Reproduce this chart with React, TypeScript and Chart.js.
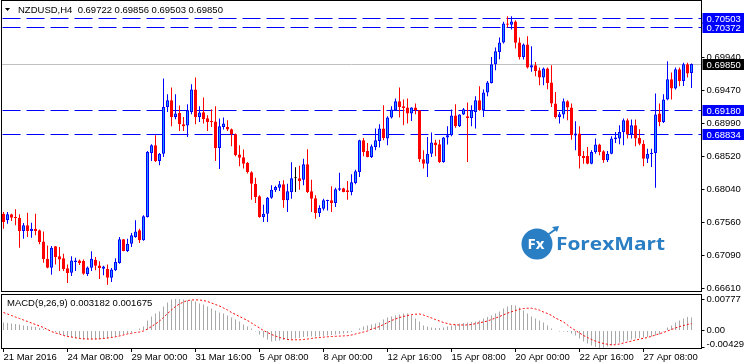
import React, { useEffect, useRef } from "react";
import { Chart, registerables } from "chart.js";

Chart.register(...registerables);

// ---------- Data (NZDUSD H4, 21 Mar 2016 16:00 -> 28 Apr 2016 08:00) ----------
const OPEN = [
  0.67692, 0.67596, 0.67683, 0.67639, 0.67635, 0.67442, 0.67524, 0.67442, 0.67476, 0.67452,
  0.67293, 0.67043, 0.66913, 0.67221, 0.67077, 0.67048, 0.66904, 0.66841, 0.66995, 0.67019,
  0.67009, 0.66822, 0.66913, 0.67029, 0.66947, 0.66899, 0.66899, 0.66769, 0.66875, 0.66981,
  0.67322, 0.67154, 0.67259, 0.67356, 0.67452, 0.67308, 0.67644, 0.68568, 0.68678, 0.68452,
  0.68558, 0.69232, 0.69328, 0.69087, 0.69145, 0.68981, 0.68962, 0.69159, 0.69482, 0.69087,
  0.69155, 0.69068, 0.69025, 0.6902, 0.6864, 0.68943, 0.68943, 0.68909, 0.68837, 0.68544,
  0.68505, 0.68424, 0.68289, 0.68125, 0.67943, 0.67644, 0.67692, 0.67923, 0.68029, 0.68068,
  0.68116, 0.67885, 0.68005, 0.68202, 0.68202, 0.68183, 0.68404, 0.68015, 0.67914, 0.67702,
  0.67765, 0.67875, 0.67885, 0.67846, 0.68039, 0.68058, 0.68029, 0.68005, 0.68135, 0.68294,
  0.68751, 0.68597, 0.6851, 0.68654, 0.68741, 0.68919, 0.68775, 0.69078, 0.69183, 0.69313,
  0.69241, 0.69222, 0.69135, 0.69222, 0.69183, 0.68476, 0.68414, 0.68558, 0.68717, 0.68693,
  0.68438, 0.68789, 0.68823, 0.69107, 0.68953, 0.69121, 0.69097, 0.69073, 0.69159, 0.69328,
  0.69183, 0.69438, 0.69578, 0.69847, 0.70025, 0.7016, 0.70434, 0.70415, 0.70463, 0.7016,
  0.69953, 0.70131, 0.69799, 0.69833, 0.69761, 0.69655, 0.69785, 0.69583, 0.6928, 0.69087,
  0.69121, 0.69313, 0.69222, 0.68818, 0.68847, 0.68525, 0.68525, 0.68414, 0.68582, 0.68688,
  0.68592, 0.68462, 0.68558, 0.68765, 0.68775, 0.68871, 0.69039, 0.68837, 0.68967, 0.68784,
  0.68702, 0.68486, 0.68553, 0.68568, 0.69135, 0.69015, 0.69337, 0.69631, 0.69496, 0.69775,
  0.69607, 0.69847, 0.69722,
];
const HIGH = [
  0.67716, 0.67716, 0.67692, 0.67755, 0.67683, 0.67558, 0.67707, 0.67563, 0.67692, 0.67466,
  0.67437, 0.67235, 0.67226, 0.67226, 0.67211, 0.67115, 0.66961, 0.67077, 0.67057, 0.67033,
  0.67033, 0.66932, 0.67149, 0.67067, 0.67005, 0.66942, 0.66961, 0.66908, 0.67048, 0.67356,
  0.67327, 0.67332, 0.67413, 0.67596, 0.67476, 0.67668, 0.68597, 0.68693, 0.68823, 0.68568,
  0.6964, 0.69414, 0.69511, 0.69414, 0.69251, 0.69087, 0.6927, 0.69559, 0.69655, 0.69241,
  0.69366, 0.69111, 0.69198, 0.69241, 0.69063, 0.69078, 0.69039, 0.68919, 0.68847, 0.68678,
  0.68616, 0.68438, 0.68303, 0.68212, 0.67957, 0.67822, 0.67933, 0.68101, 0.68096, 0.68164,
  0.68173, 0.68125, 0.68433, 0.68361, 0.68385, 0.68486, 0.68621, 0.68183, 0.67957, 0.67813,
  0.67909, 0.67894, 0.68087, 0.68068, 0.68284, 0.68068, 0.68164, 0.6826, 0.68327, 0.6876,
  0.68784, 0.68712, 0.68688, 0.68919, 0.68981, 0.69256, 0.69097, 0.69241, 0.69352, 0.69511,
  0.69337, 0.69352, 0.69227, 0.6928, 0.69188, 0.68606, 0.68799, 0.68861, 0.6876, 0.6876,
  0.68799, 0.68953, 0.69193, 0.6927, 0.69126, 0.69217, 0.69294, 0.69256, 0.69386, 0.6953,
  0.69482, 0.69607, 0.69953, 0.70088, 0.70232, 0.70458, 0.7054, 0.7054, 0.70482, 0.70232,
  0.70146, 0.70251, 0.70107, 0.69881, 0.69799, 0.69799, 0.69799, 0.69833, 0.69448, 0.69159,
  0.69352, 0.69328, 0.6928, 0.69025, 0.68953, 0.68597, 0.68654, 0.68606, 0.68775, 0.68702,
  0.68606, 0.68597, 0.68808, 0.68871, 0.68967, 0.69063, 0.69063, 0.69049, 0.69049, 0.68909,
  0.68751, 0.6863, 0.6863, 0.69424, 0.6928, 0.69414, 0.69891, 0.69727, 0.69799, 0.69799,
  0.69867, 0.69867, 0.69856,
];
const LOW = [
  0.67476, 0.67548, 0.67587, 0.67524, 0.67202, 0.67332, 0.67356, 0.67346, 0.6738, 0.6725,
  0.66985, 0.66904, 0.66812, 0.66961, 0.66865, 0.66865, 0.66692, 0.66793, 0.66865, 0.66952,
  0.66812, 0.66793, 0.66865, 0.66875, 0.6675, 0.66803, 0.66668, 0.66706, 0.66865, 0.66971,
  0.67149, 0.67139, 0.67211, 0.67346, 0.67269, 0.67303, 0.67639, 0.68452, 0.68438, 0.6839,
  0.6851, 0.69159, 0.68953, 0.69054, 0.68885, 0.68885, 0.68799, 0.69126, 0.68981, 0.69015,
  0.68991, 0.68885, 0.68943, 0.68452, 0.68337, 0.68905, 0.68885, 0.68664, 0.6852, 0.68375,
  0.68342, 0.6827, 0.67894, 0.67846, 0.67635, 0.67572, 0.67572, 0.67909, 0.68005, 0.68019,
  0.67779, 0.67716, 0.67909, 0.68005, 0.68039, 0.68101, 0.67991, 0.67716, 0.6762, 0.67644,
  0.6774, 0.6774, 0.67716, 0.67789, 0.68019, 0.68, 0.67894, 0.67957, 0.68116, 0.68221,
  0.6852, 0.68505, 0.68496, 0.68606, 0.68645, 0.68751, 0.68678, 0.69063, 0.69174, 0.69078,
  0.68967, 0.68991, 0.6903, 0.69126, 0.68438, 0.68342, 0.68221, 0.6851, 0.6852, 0.68424,
  0.68428, 0.68688, 0.68808, 0.68933, 0.68943, 0.69116, 0.68438, 0.68953, 0.68919, 0.69178,
  0.69087, 0.69386, 0.69568, 0.69761, 0.69919, 0.70146, 0.70376, 0.70348, 0.70073, 0.69915,
  0.69915, 0.69785, 0.69737, 0.69674, 0.69544, 0.69544, 0.69487, 0.69232, 0.69063, 0.68991,
  0.69063, 0.69039, 0.6876, 0.68606, 0.68342, 0.68414, 0.68404, 0.68404, 0.68558, 0.68534,
  0.68428, 0.68438, 0.68549, 0.68712, 0.68693, 0.68678, 0.68775, 0.68775, 0.68664, 0.68678,
  0.68375, 0.68424, 0.68366, 0.68068, 0.68953, 0.69001, 0.69328, 0.69337, 0.69482, 0.6953,
  0.69535, 0.69655, 0.69503,
];
const CLOSE = [
  0.67572, 0.67683, 0.67635, 0.6763, 0.67442, 0.67524, 0.67442, 0.67476, 0.67442, 0.67284,
  0.67038, 0.66913, 0.67202, 0.67067, 0.67033, 0.66894, 0.66836, 0.67019, 0.67019, 0.66981,
  0.66827, 0.66918, 0.67043, 0.66942, 0.66908, 0.66932, 0.66769, 0.66889, 0.66995, 0.67322,
  0.67154, 0.67259, 0.6738, 0.67437, 0.67308, 0.67654, 0.68582, 0.68678, 0.68448, 0.68558,
  0.69232, 0.69328, 0.69087, 0.69135, 0.68981, 0.68953, 0.69183, 0.69482, 0.69087, 0.6915,
  0.69054, 0.69015, 0.69015, 0.6864, 0.68953, 0.68991, 0.68905, 0.68837, 0.68534, 0.685,
  0.68414, 0.68294, 0.68125, 0.67933, 0.67644, 0.67692, 0.67923, 0.68039, 0.68077, 0.68116,
  0.67885, 0.68015, 0.68202, 0.68202, 0.68164, 0.68404, 0.68005, 0.67909, 0.67702, 0.67774,
  0.67885, 0.67885, 0.67846, 0.68044, 0.68058, 0.68005, 0.68005, 0.68145, 0.68303, 0.68751,
  0.68582, 0.6851, 0.68664, 0.68751, 0.68919, 0.68784, 0.69078, 0.69193, 0.69313, 0.69232,
  0.69217, 0.69135, 0.69222, 0.69183, 0.68476, 0.68414, 0.68558, 0.68717, 0.68678, 0.68438,
  0.68789, 0.68823, 0.69107, 0.68953, 0.69121, 0.69198, 0.69073, 0.69183, 0.69328, 0.69183,
  0.69438, 0.69583, 0.69847, 0.70035, 0.7016, 0.70434, 0.70415, 0.70463, 0.70155, 0.69953,
  0.70131, 0.69799, 0.69833, 0.69751, 0.69655, 0.69785, 0.69578, 0.6928, 0.69087, 0.69126,
  0.69313, 0.69222, 0.68823, 0.68847, 0.68525, 0.68496, 0.68414, 0.68582, 0.68688, 0.68582,
  0.68462, 0.68558, 0.68775, 0.68789, 0.68871, 0.69039, 0.68837, 0.68967, 0.68775, 0.68702,
  0.68486, 0.68558, 0.68558, 0.69121, 0.69015, 0.69337, 0.69631, 0.69496, 0.69775, 0.69607,
  0.69847, 0.69713, 0.6985,
];
const MACD_MAIN = [
  0.00197, 0.00185, 0.00173, 0.0016, 0.00148, 0.00123, 0.00111, 0.00099, 0.00086, 0.00062,
  0.00037, 0.00025, 0.00012, -0.00037, -0.00074, -0.00111, -0.00148, -0.00173, -0.00197, -0.0021,
  -0.00222, -0.00222, -0.00222, -0.00222, -0.00222, -0.0021, -0.00197, -0.00173, -0.00148, -0.00123,
  -0.00099, -0.00074, -0.00049, 0.00012, 0.00049, 0.00099, 0.00247, 0.00345, 0.00419, 0.00469,
  0.00592, 0.00691, 0.00765, 0.00777, 0.00772, 0.00765, 0.0074, 0.0074, 0.00715, 0.00666,
  0.00641, 0.00592, 0.00543, 0.00493, 0.00444, 0.00419, 0.0037, 0.00321, 0.00271, 0.00222,
  0.00148, 0.00099, 0.00049, -0.00025, -0.00099, -0.00173, -0.00222, -0.00271, -0.00259, -0.00247,
  -0.00234, -0.00234, -0.00222, -0.00197, -0.00185, -0.0016, -0.00148, -0.00148, -0.00148, -0.00148,
  -0.00136, -0.00123, -0.00111, -0.00099, -0.00086, -0.00074, -0.00062, -0.00037, 0.0, 0.00049,
  0.00099, 0.00123, 0.00148, 0.00173, 0.00197, 0.00271, 0.00321, 0.00345, 0.0037, 0.00395,
  0.00419, 0.00419, 0.0037, 0.00296, 0.00222, 0.00123, 0.00099, 0.00074, 0.00062, 0.00062,
  0.00074, 0.00099, 0.00123, 0.00148, 0.00173, 0.00185, 0.00197, 0.0021, 0.00222, 0.00247,
  0.00296, 0.00333, 0.0037, 0.00419, 0.00469, 0.00543, 0.00592, 0.00629, 0.00617, 0.00567,
  0.00493, 0.00419, 0.00345, 0.00296, 0.00247, 0.00197, 0.00123, 0.00049, -0.00012, -0.00025,
  -0.00025, -0.00037, -0.00074, -0.00123, -0.00197, -0.00271, -0.00321, -0.0037, -0.0041, -0.0043,
  -0.00425, -0.00395, -0.0037, -0.00333, -0.00296, -0.00271, -0.00247, -0.00222, -0.00197, -0.00185,
  -0.00173, -0.0016, -0.00148, -0.00123, -0.00099, -0.00025, 0.00074, 0.00123, 0.00197, 0.00247,
  0.00296, 0.00333, 0.003182,
];
const MACD_SIGNAL = [
  0.00444, 0.00407, 0.0037, 0.00333, 0.00296, 0.00259, 0.00222, 0.00185, 0.00148, 0.00111,
  0.00074, 0.00025, -0.00025, -0.00062, -0.00086, -0.00123, -0.00148, -0.0016, -0.00178, -0.00197,
  -0.00205, -0.0021, -0.0021, -0.0021, -0.00205, -0.00197, -0.00185, -0.00173, -0.00155, -0.00136,
  -0.00111, -0.00086, -0.00069, -0.00049, -0.00037, -0.00012, 0.00037, 0.00099, 0.0016, 0.00234,
  0.00321, 0.00419, 0.00506, 0.00592, 0.00654, 0.00703, 0.0074, 0.00752, 0.00757, 0.00752,
  0.0074, 0.00715, 0.00678, 0.00641, 0.00604, 0.00555, 0.00506, 0.00444, 0.00395, 0.00345,
  0.00296, 0.00247, 0.00185, 0.00123, 0.00062, 0.0, -0.00049, -0.00099, -0.00136, -0.00173,
  -0.00197, -0.00222, -0.00229, -0.00229, -0.00229, -0.00222, -0.0021, -0.00197, -0.0018, -0.00173,
  -0.00165, -0.00155, -0.00148, -0.00143, -0.00138, -0.00133, -0.00128, -0.00111, -0.00086, -0.00062,
  -0.00037, -0.00012, 0.00037, 0.00062, 0.00099, 0.00148, 0.00197, 0.00247, 0.00284, 0.00321,
  0.00345, 0.0037, 0.0039, 0.00402, 0.00407, 0.00382, 0.00345, 0.00308, 0.00271, 0.00234,
  0.00197, 0.00173, 0.00148, 0.00141, 0.00136, 0.00136, 0.00138, 0.00148, 0.00168, 0.00192,
  0.0021, 0.00234, 0.00271, 0.00308, 0.00345, 0.00387, 0.00427, 0.00464, 0.00493, 0.00523,
  0.00543, 0.0055, 0.0055, 0.0053, 0.00501, 0.00456, 0.00419, 0.0037, 0.00308, 0.00259,
  0.0021, 0.00136, 0.00062, 0.0, -0.00062, -0.00123, -0.00173, -0.00222, -0.00264, -0.00296,
  -0.00321, -0.0034, -0.00353, -0.0035, -0.00333, -0.00308, -0.00284, -0.00259, -0.00234, -0.00215,
  -0.00192, -0.00173, -0.00143, -0.00111, -0.00079, -0.00049, -0.00012, 0.00025, 0.00062, 0.00099,
  0.00123, 0.00148, 0.001675,
];

const EMPTY_SLOTS_RIGHT = 2; // chart shift at the right edge
const X_TICK_INDEX = [0, 16, 32, 48, 64, 80, 96, 112, 128, 144, 160];
const X_TICK_LABELS = [
  "21 Mar 2016", "24 Mar 08:00", "29 Mar 00:00", "31 Mar 16:00", "5 Apr 08:00", "8 Apr 00:00",
  "12 Apr 16:00", "15 Apr 08:00", "20 Apr 00:00", "22 Apr 16:00", "27 Apr 08:00",
];
const PRICE_TICKS = [0.6994, 0.6947, 0.6899, 0.6852, 0.6804, 0.6756, 0.6709, 0.6661];
const MACD_TICKS = [0.00777, 0, -0.004295];
const MACD_TICK_LABELS = ["0.00777", "0.00", "-0.004295"];
const LEVELS = [0.70503, 0.70372, 0.6918, 0.68834];
const LAST_PRICE = 0.6985;
const PRICE_MIN = 0.665632;
const PRICE_MAX = 0.707587;
const MACD_MIN = -0.004563;
const MACD_MAX = 0.009497;
const HEADER = "NZDUSD,H4  0.69722 0.69856 0.69503 0.69850";
const MACD_HEADER = "MACD(9,26,9) 0.003182 0.001675";

// ---------- styling ----------
const FONT_FAMILY = '"Liberation Sans", Arial, sans-serif';
const FONT_SIZE = 9.5;
const UP_FILL = "#1E90FF";
const UP_LINE = "#0000FF";
const DOWN = "#FF0000";
const LEVEL_COLOR = "#0000FF";

const CATEGORIES = Array.from({ length: OPEN.length + EMPTY_SLOTS_RIGHT }, (_, i) => String(i));
const dir = OPEN.map((o, i) => (CLOSE[i] > o ? 1 : CLOSE[i] < o ? -1 : 0));
const wickColors = dir.map((d) => (d > 0 ? UP_LINE : d < 0 ? DOWN : "#000000"));
const bodyFill = dir.map((d) => (d > 0 ? UP_FILL : d < 0 ? DOWN : "#000000"));
const bodyLine = dir.map((d) => (d > 0 ? UP_LINE : d < 0 ? DOWN : "#000000"));

function drawLogo(ctx: CanvasRenderingContext2D) {
  const blue = "#2A7EC3";
  ctx.save();
  ctx.fillStyle = blue;
  ctx.beginPath();
  ctx.arc(537, 244, 15.5, 0, Math.PI * 2);
  ctx.fill();
  ctx.fillStyle = "#ffffff";
  ctx.font = 'bold 15px "Open Sans", sans-serif';
  ctx.textAlign = "center";
  ctx.textBaseline = "middle";
  ctx.fillText("Fx", 536, 245);
  ctx.strokeStyle = blue;
  ctx.lineWidth = 2;
  ctx.beginPath();
  ctx.moveTo(546, 236);
  ctx.lineTo(556, 229);
  ctx.stroke();
  ctx.fillStyle = blue;
  ctx.beginPath();
  ctx.moveTo(559, 226);
  ctx.lineTo(552, 227);
  ctx.lineTo(557, 232);
  ctx.closePath();
  ctx.fill();
  ctx.font = 'bold 18px "Open Sans", sans-serif';
  ctx.textAlign = "left";
  const w = ctx.measureText("ForexMart").width;
  ctx.translate(556, 245);
  ctx.scale(109 / w, 1);
  ctx.fillText("ForexMart", 0, 0);
  ctx.restore();
}

const overlayPlugin = {
  id: "mt4overlay",
  beforeDatasetsDraw(chart: any) {
    const ctx = chart.ctx as CanvasRenderingContext2D;
    const y = chart.scales.y;
    const area = chart.chartArea;
    drawLogo(ctx);
    ctx.save();
    ctx.beginPath();
    ctx.rect(area.left, y.top, area.right - area.left, y.bottom - y.top);
    ctx.clip();
    ctx.lineWidth = 1;
    const lp = Math.floor(y.getPixelForValue(LAST_PRICE)) + 0.5;
    ctx.strokeStyle = "#C0C0C0";
    ctx.setLineDash([]);
    ctx.beginPath();
    ctx.moveTo(area.left, lp);
    ctx.lineTo(area.right, lp);
    ctx.stroke();
    ctx.strokeStyle = LEVEL_COLOR;
    ctx.setLineDash([18, 6]);
    for (const v of LEVELS) {
      const py = Math.floor(y.getPixelForValue(v)) + 0.5;
      ctx.beginPath();
      ctx.moveTo(area.left + 1, py);
      ctx.lineTo(area.right, py);
      ctx.stroke();
    }
    ctx.restore();
  },
  afterDraw(chart: any) {
    const ctx = chart.ctx as CanvasRenderingContext2D;
    const y = chart.scales.y;
    const y2 = chart.scales.y2;
    const area = chart.chartArea;
    const font = `${FONT_SIZE}px ${FONT_FAMILY}`;
    ctx.save();
    ctx.strokeStyle = "#000000";
    ctx.lineWidth = 1;
    ctx.setLineDash([]);
    const L = Math.floor(area.left) + 0.5;
    const R = Math.floor(area.right) + 0.5;
    ctx.strokeRect(L, Math.floor(y.top) - 0.5, R - L, Math.floor(y.bottom) - Math.floor(y.top));
    ctx.strokeRect(L, Math.floor(y2.top) + 2.5, R - L, Math.floor(y2.bottom) - Math.floor(y2.top) - 3);
    ctx.fillStyle = "#000000";
    ctx.beginPath();
    ctx.moveTo(5, 8);
    ctx.lineTo(10, 8);
    ctx.lineTo(7.5, 11);
    ctx.closePath();
    ctx.fill();
    ctx.font = font;
    ctx.textBaseline = "middle";
    ctx.textAlign = "left";
    ctx.fillText(HEADER, 18, 10.5);
    ctx.fillText(MACD_HEADER, 7, 303);
    // lowest MACD scale label is lifted to stay inside the panel (as MT4 does)
    const lastIdx = MACD_TICKS.length - 1;
    const lowY = Math.min(y2.getPixelForValue(MACD_TICKS[lastIdx]), y2.bottom - 5);
    ctx.fillText(MACD_TICK_LABELS[lastIdx], R + 5, lowY);
    const drawBox = (v: number, bg: string) => {
      const py = Math.floor(y.getPixelForValue(v)) + 0.5;
      ctx.fillStyle = bg;
      ctx.fillRect(R + 1, py - 5.5, 744 - R - 1, 11);
      ctx.fillStyle = "#ffffff";
      ctx.fillText(v.toFixed(5), R + 5, py + 0.5);
    };
    for (const v of LEVELS) drawBox(v, LEVEL_COLOR);
    drawBox(LAST_PRICE, "#000000");
    ctx.restore();
  },
};

const noPad = (s: any) => {
  s.paddingTop = 0;
  s.paddingBottom = 0;
  s.paddingLeft = 0;
  s.paddingRight = 0;
};

export default function App() {
  const ref = useRef<HTMLCanvasElement>(null);
  useEffect(() => {
    const font = { family: FONT_FAMILY, size: FONT_SIZE };
    const chart = new Chart(ref.current as HTMLCanvasElement, {
      data: {
        labels: CATEGORIES,
        datasets: [
          {
            type: "bar",
            label: "MACD",
            data: MACD_MAIN,
            yAxisID: "y2",
            backgroundColor: "#A8A8A8",
            borderWidth: 0,
            barThickness: 1,
            grouped: false,
            inflateAmount: 0,
            order: 3,
          } as any,
          {
            type: "line",
            label: "Signal",
            data: MACD_SIGNAL,
            yAxisID: "y2",
            borderColor: "#FF0000",
            borderWidth: 1,
            borderDash: [2, 2],
            pointRadius: 0,
            tension: 0,
            fill: false,
            order: 0,
          } as any,
          {
            type: "bar",
            label: "Wick",
            data: LOW.map((l, i) => [l, HIGH[i]]),
            yAxisID: "y",
            backgroundColor: wickColors,
            borderWidth: 0,
            barThickness: 1,
            grouped: false,
            inflateAmount: 0,
            order: 2,
          } as any,
          {
            type: "bar",
            label: "Body",
            data: OPEN.map((o, i) => [o, CLOSE[i]]),
            yAxisID: "y",
            backgroundColor: bodyFill,
            borderColor: bodyLine,
            borderWidth: 1,
            borderSkipped: false,
            barThickness: 3,
            minBarLength: 1,
            grouped: false,
            inflateAmount: 0,
            order: 1,
          } as any,
        ],
      },
      options: {
        responsive: false,
        animation: false,
        devicePixelRatio: 1,
        events: [],
        layout: { padding: { left: 1.5, top: 1, right: 0, bottom: 0 } },
        plugins: { legend: { display: false }, tooltip: { enabled: false } },
        scales: {
          x: {
            type: "category",
            offset: true,
            grid: { display: true, drawOnChartArea: false, drawTicks: true, tickLength: 3, offset: false, color: "#000000", tickColor: "#000000" },
            border: { display: false },
            ticks: { autoSkip: false, maxRotation: 0, minRotation: 0, align: "start", padding: 0, color: "#000000", font, callback: (_v: any, i: number) => X_TICK_LABELS[i] },
            afterBuildTicks: (s: any) => { s.ticks = X_TICK_INDEX.map((v) => ({ value: v })); },
            afterFit: (s: any) => { s.height = 15; noPad(s); },
          },
          y: {
            type: "linear",
            position: "right",
            stack: "panes",
            stackWeight: 291,
            min: PRICE_MIN,
            max: PRICE_MAX,
            grid: { display: true, drawOnChartArea: false, drawTicks: true, tickLength: 3, color: "#000000", tickColor: "#000000" },
            border: { display: false },
            ticks: { padding: 2, color: "#000000", font, callback: (v: any) => Number(v).toFixed(5) },
            afterBuildTicks: (s: any) => { s.ticks = PRICE_TICKS.map((v) => ({ value: v })); },
            afterFit: (s: any) => { s.width = 42.5; noPad(s); },
          },
          y2: {
            type: "linear",
            position: "right",
            stack: "panes",
            stackWeight: 57,
            min: MACD_MIN,
            max: MACD_MAX,
            grid: { display: true, drawOnChartArea: false, drawTicks: true, tickLength: 3, color: "#000000", tickColor: "#000000" },
            border: { display: false },
            ticks: {
              padding: 2,
              color: "#000000",
              font,
              callback: (_v: any, i: number) => (i === MACD_TICKS.length - 1 ? "" : MACD_TICK_LABELS[i]),
            },
            afterBuildTicks: (s: any) => { s.ticks = MACD_TICKS.map((v) => ({ value: v })); },
            afterFit: (s: any) => { s.width = 42.5; noPad(s); },
          },
        },
      } as any,
      plugins: [overlayPlugin],
    } as any);
    return () => chart.destroy();
  }, []);
  return (
    <div style={{ position: "fixed", left: 0, top: 0, width: 744, height: 364, background: "#ffffff" }}>
      <canvas ref={ref} width={744} height={364} style={{ display: "block", width: 744, height: 364 }} />
    </div>
  );
}
